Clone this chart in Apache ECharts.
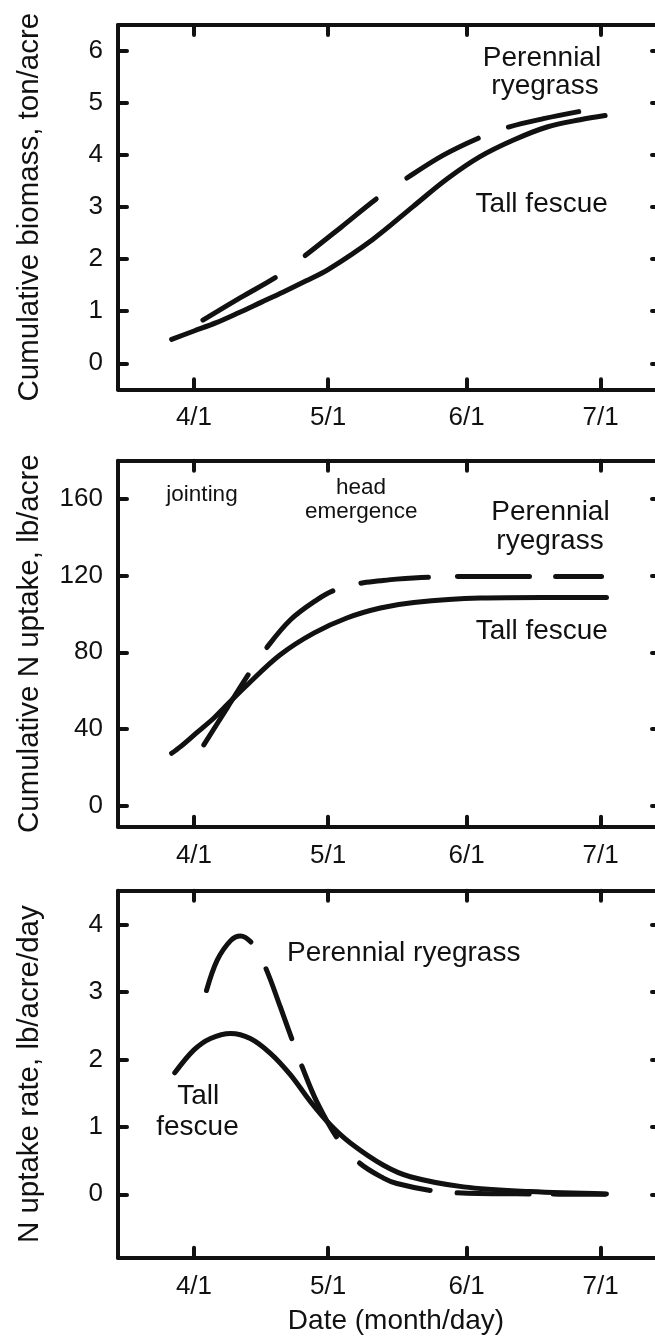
<!DOCTYPE html>
<html>
<head>
<meta charset="utf-8">
<script src="https://cdn.jsdelivr.net/npm/echarts@6/dist/echarts.min.js"></script>
<style>
html,body{margin:0;padding:0;background:#fff;}
#c{width:655px;height:1336px;}
</style>
</head>
<body>
<div id="c"></div>
<script>
// ---- data (x = days after April 1) ----
const tickDays = [0, 30, 61, 91];
const tickLabels = ['4/1', '5/1', '6/1', '7/1'];

const biomassTicks = [0, 1, 2, 3, 4, 5, 6];
const uptakeTicks = [0, 40, 80, 120, 160];
const rateTicks = [0, 1, 2, 3, 4];

const tfBiomassDays = [-5, 0, 5, 10, 15, 20, 25, 30, 40, 49, 56.6, 64, 71.5, 79, 86.4, 92];
const tfBiomass     = [0.46, 0.62, 0.78, 0.97, 1.17, 1.37, 1.58, 1.80, 2.38, 3.01, 3.54, 3.97, 4.29, 4.54, 4.68, 4.76];
const prBiomassDays = [2, 10.4, 19, 24.6, 33, 41.3, 47.3, 55.8, 64, 69.6, 78.2, 86.4];
const prBiomass     = [0.83, 1.26, 1.69, 2.05, 2.62, 3.19, 3.54, 4.0, 4.34, 4.52, 4.70, 4.84];

const tfUptakeDays = [-5, -3, 0.5, 4.4, 7, 11.9, 19.3, 26.8, 34.2, 41.7, 49.2, 64, 78, 92.3];
const tfUptake     = [27.3, 30.8, 37.8, 45.6, 51.7, 63, 78.7, 90, 97.9, 103.1, 106, 108.3, 108.6, 108.6];
const prUptakeDays = [2.2, 7.4, 12.6, 16.2, 21.6, 27.5, 31.3, 36.7, 41.7, 45.3, 53.2, 60, 75, 91.2];
const prUptake     = [31.7, 50.9, 70, 82.2, 97, 107.4, 112.3, 115.8, 117.3, 118.2, 119.3, 119.6, 119.6, 119.6];

const tfRateDays = [-4.3, 0, 3.7, 8.2, 12.6, 17.1, 21.6, 26.1, 30.5, 35, 42.4, 48.4, 60.3, 75.2, 92.3];
const tfRate     = [1.80, 2.14, 2.31, 2.385, 2.31, 2.09, 1.77, 1.37, 1.03, 0.76, 0.43, 0.26, 0.11, 0.04, 0.005];
const prRateDays = [2.8, 5.2, 8.2, 10.4, 13.5, 16.2, 19.3, 22.3, 24.2, 27.5, 32.4, 37.1, 42.4, 45.4, 53.6, 60, 75, 92];
const prRate     = [3.02, 3.47, 3.76, 3.83, 3.68, 3.33, 2.78, 2.23, 1.89, 1.37, 0.80, 0.46, 0.24, 0.16, 0.05, 0.02, 0.005, 0];

// ---- styling ----
const INK = '#111';
const FONT = '"Liberation Sans", Arial, Helvetica, sans-serif';
const X_MIN = -17, X_MAX = 104.5;

// dash patterns (px) of the perennial ryegrass curves
const dashBiomass = [84, 37, 91, 37, 82, 32, 72, 200];
const dashUptake  = [83, 33, 88, 29, 68, 29, 72, 26, 200];
const dashRate    = [79.5, 31, 74.5, 29, 79, 35, 77, 27, 72, 24, 200];

const grids = [
  {left: 118, width: 543, top: 25, height: 364.3, outerBoundsMode: 'none', containLabel: false},
  {left: 118, width: 543, top: 460.7, height: 366, outerBoundsMode: 'none', containLabel: false},
  {left: 118, width: 543, top: 890.7, height: 367, outerBoundsMode: 'none', containLabel: false}
];
const yRanges = [[-0.5, 6.5], [-11, 180], [-0.94, 4.5]];
const yTicks = [biomassTicks, uptakeTicks, rateTicks];
const yNames = ['Cumulative biomass, ton/acre', 'Cumulative N uptake, lb/acre', 'N uptake rate, lb/acre/day'];

const axisLine = {show: true, onZero: false, lineStyle: {color: INK, width: 4}};
const tickStyle = {color: INK, width: 4, cap: 'round'};

const xAxes = [], yAxes = [];
grids.forEach((g, i) => {
  xAxes.push({
    type: 'value', gridIndex: i, position: 'bottom', min: X_MIN, max: X_MAX,
    axisLine: axisLine, splitLine: {show: false},
    axisTick: {show: true, inside: true, length: 10, customValues: tickDays, lineStyle: tickStyle},
    axisLabel: {show: true, customValues: tickDays, margin: 16, fontSize: 26, fontFamily: FONT, color: INK,
      formatter: v => tickLabels[tickDays.indexOf(v)] || ''},
    name: i === 2 ? 'Date (month/day)' : '', nameLocation: 'middle', nameGap: 50,
    nameTextStyle: {fontSize: 28, fontFamily: FONT, color: INK, padding: [0, 0, 0, 13]}
  });
  xAxes.push({
    type: 'value', gridIndex: i, position: 'top', min: X_MIN, max: X_MAX,
    axisLine: axisLine, splitLine: {show: false},
    axisTick: {show: true, inside: true, length: 10, customValues: tickDays, lineStyle: tickStyle},
    axisLabel: {show: false}
  });
  yAxes.push({
    type: 'value', gridIndex: i, position: 'left', min: yRanges[i][0], max: yRanges[i][1],
    axisLine: axisLine, splitLine: {show: false},
    axisTick: {show: true, inside: true, length: 9, customValues: yTicks[i], lineStyle: tickStyle},
    axisLabel: {show: true, customValues: yTicks[i], margin: 15, fontSize: 26, fontFamily: FONT, color: INK},
    name: yNames[i], nameLocation: 'middle', nameGap: 73,
    nameTextStyle: {fontSize: 29.5, fontFamily: FONT, color: INK}
  });
  yAxes.push({
    type: 'value', gridIndex: i, position: 'right', min: yRanges[i][0], max: yRanges[i][1],
    axisLine: axisLine, splitLine: {show: false},
    axisTick: {show: true, inside: true, length: 9, customValues: yTicks[i], lineStyle: tickStyle},
    axisLabel: {show: false}
  });
});

function pairs(xs, ys) { return xs.map((x, k) => [x, ys[k]]); }
function curve(i, xs, ys, dash) {
  return {
    type: 'line', xAxisIndex: i * 2, yAxisIndex: i * 2, data: pairs(xs, ys),
    showSymbol: false, symbol: 'none', smooth: 0.35, silent: true,
    lineStyle: {color: INK, width: 5, cap: 'round', join: 'round', type: dash || 'solid'}
  };
}

const series = [
  curve(0, tfBiomassDays, tfBiomass),
  curve(0, prBiomassDays, prBiomass, dashBiomass),
  curve(1, tfUptakeDays, tfUptake),
  curve(1, prUptakeDays, prUptake, dashUptake),
  curve(2, tfRateDays, tfRate),
  curve(2, prRateDays, prRate, dashRate)
];

function txt(s, x, y, size) {
  return {type: 'text', silent: true, style: {text: s, x: x, y: y, align: 'center', verticalAlign: 'middle',
    fontSize: size, fontFamily: FONT, fill: INK}};
}
const BIG = 28, SMALL = 22.5;
const graphic = [
  txt('Perennial', 542, 58.6, BIG), txt('ryegrass', 545, 86, BIG), txt('Tall fescue', 541.7, 204.6, BIG),
  txt('jointing', 202, 494.4, SMALL), txt('head', 361, 487.7, SMALL), txt('emergence', 361.3, 512, SMALL),
  txt('Perennial', 550.5, 512.3, BIG), txt('ryegrass', 550, 541.6, BIG), txt('Tall fescue', 541.8, 631.3, BIG),
  txt('Perennial ryegrass', 403.7, 953, BIG), txt('Tall', 198.3, 1096.3, BIG), txt('fescue', 197.5, 1127.3, BIG)
];

const chart = echarts.init(document.getElementById('c'), null, {renderer: 'canvas'});
chart.setOption({
  animation: false, backgroundColor: '#fff',
  grid: grids, xAxis: xAxes, yAxis: yAxes, series: series, graphic: graphic
});
</script>
</body>
</html>
